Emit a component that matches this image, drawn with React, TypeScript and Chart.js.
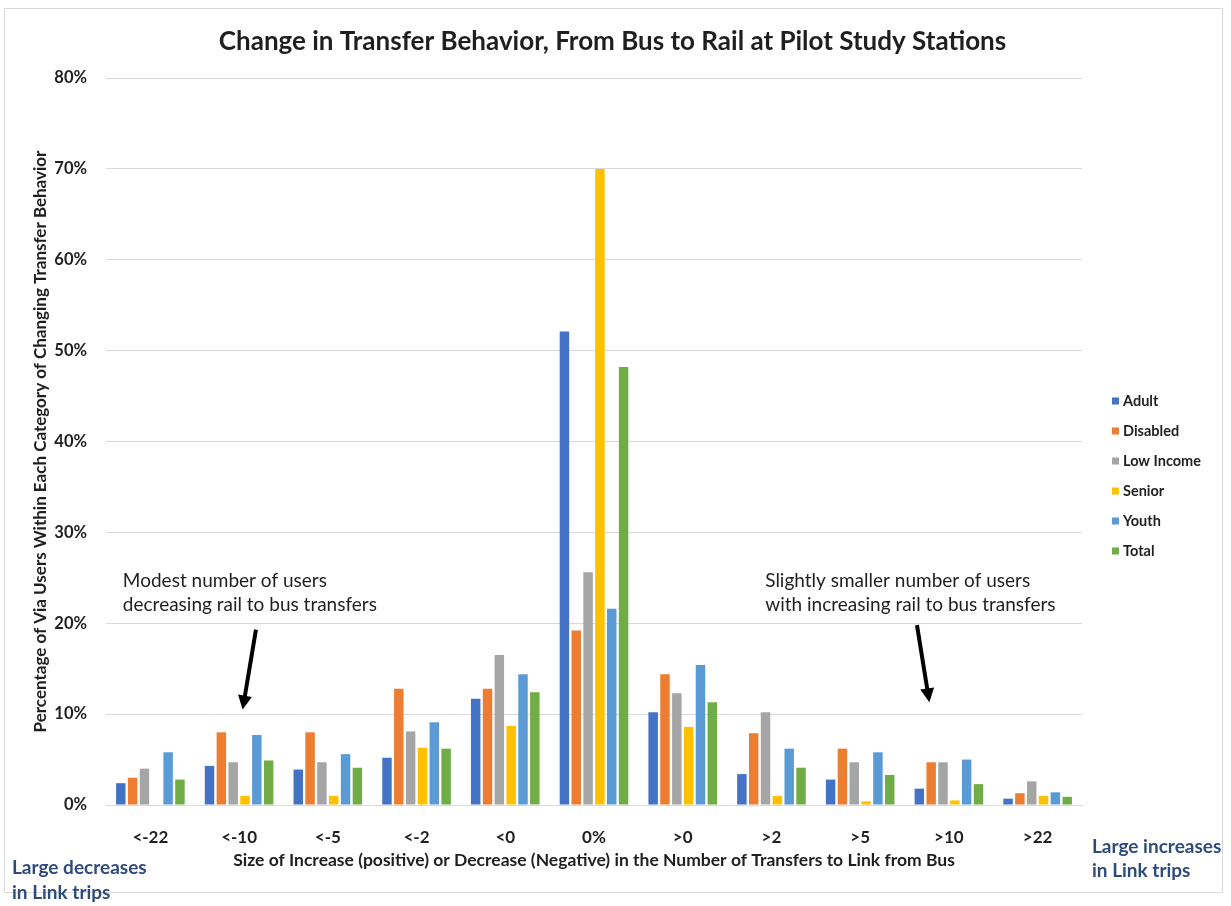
import { useEffect, useRef } from "react";
import { Chart, registerables } from "chart.js";
Chart.register(...registerables);

const categories = ["<-22", "<-10", "<-5", "<-2", "<0", "0%", ">0", ">2", ">5", ">10", ">22"];
const adult = [2.4, 4.3, 3.9, 5.2, 11.7, 52.1, 10.2, 3.4, 2.8, 1.8, 0.7];
const disabled = [3.0, 8.0, 8.0, 12.8, 12.8, 19.2, 14.4, 7.9, 6.2, 4.7, 1.3];
const lowIncome = [4.0, 4.7, 4.7, 8.1, 16.5, 25.6, 12.3, 10.2, 4.7, 4.7, 2.6];
const senior = [0, 1.0, 1.0, 6.3, 8.7, 70.0, 8.6, 1.0, 0.4, 0.5, 1.0];
const youth = [5.8, 7.7, 5.6, 9.1, 14.4, 21.6, 15.4, 6.2, 5.8, 5.0, 1.4];
const total = [2.8, 4.9, 4.1, 6.2, 12.4, 48.2, 11.3, 4.1, 3.3, 2.3, 0.9];

const seriesNames = ["Adult", "Disabled", "Low Income", "Senior", "Youth", "Total"];
const seriesColors = ["#4472c4", "#ed7d31", "#a5a5a5", "#ffc000", "#5b9bd5", "#70ad47"];

const FONT = "Lato, 'Open Sans', sans-serif";
const TEXT = "#1f1f1f";

// arrow + note positions in data units (category index, percent)
const notes = [
  { x: -0.31, lines: ["Modest number of users", "decreasing rail to bus transfers"], y: [24.7, 22.0], arrow: [1.19, 19.3, 1.04, 10.5] },
  { x: 6.93, lines: ["Slightly smaller number of users", "with increasing rail to bus transfers"], y: [24.7, 22.0], arrow: [8.64, 19.8, 8.78, 11.3] },
];

const extrasPlugin = {
  id: "extras",
  beforeDraw(chart: any) {
    const ctx = chart.ctx;
    ctx.save();
    ctx.fillStyle = "#ffffff";
    ctx.fillRect(0, 0, chart.width, chart.height);
    ctx.strokeStyle = "#d9d9d9";
    ctx.lineWidth = 1;
    ctx.strokeRect(4.5, 8.5, chart.width - 13, chart.height - 22);
    ctx.restore();
  },
  afterDraw(chart: any) {
    const ctx = chart.ctx;
    const area = chart.chartArea;
    const xs = chart.scales.x;
    const ys = chart.scales.y;
    ctx.save();

    // title
    ctx.fillStyle = TEXT;
    ctx.font = `bold 26px ${FONT}`;
    ctx.textAlign = "center";
    ctx.textBaseline = "middle";
    ctx.fillText("Change in Transfer Behavior, From Bus to Rail at Pilot Study Stations", chart.width / 2 - 3, 42);

    // legend
    ctx.textAlign = "left";
    ctx.font = `bold 14.5px ${FONT}`;
    seriesNames.forEach((name, i) => {
      const y = area.top + 323 + i * 30;
      ctx.fillStyle = seriesColors[i];
      ctx.fillRect(area.right + 30, y - 3.5, 7, 7);
      ctx.fillStyle = TEXT;
      ctx.fillText(name, area.right + 41, y);
    });

    // notes and arrows
    notes.forEach((n) => {
      ctx.font = `19px ${FONT}`;
      ctx.fillStyle = TEXT;
      ctx.textAlign = "left";
      n.lines.forEach((t, i) => ctx.fillText(t, xs.getPixelForValue(n.x), ys.getPixelForValue(n.y[i])));
      const x1 = xs.getPixelForValue(n.arrow[0]);
      const y1 = ys.getPixelForValue(n.arrow[1]);
      const x2 = xs.getPixelForValue(n.arrow[2]);
      const y2 = ys.getPixelForValue(n.arrow[3]);
      const ang = Math.atan2(y2 - y1, x2 - x1);
      const head = 14;
      ctx.strokeStyle = "#000000";
      ctx.lineWidth = 4;
      ctx.beginPath();
      ctx.moveTo(x1, y1);
      ctx.lineTo(x2 - Math.cos(ang) * head * 0.8, y2 - Math.sin(ang) * head * 0.8);
      ctx.stroke();
      ctx.fillStyle = "#000000";
      ctx.beginPath();
      ctx.moveTo(x2, y2);
      ctx.lineTo(x2 - head * Math.cos(ang) + 7 * Math.sin(ang), y2 - head * Math.sin(ang) - 7 * Math.cos(ang));
      ctx.lineTo(x2 - head * Math.cos(ang) - 7 * Math.sin(ang), y2 - head * Math.sin(ang) + 7 * Math.cos(ang));
      ctx.closePath();
      ctx.fill();
    });

    // side labels
    ctx.font = `bold 19px ${FONT}`;
    ctx.fillStyle = "#2f4b7c";
    ctx.textAlign = "left";
    ctx.fillText("Large decreases", 12, 868);
    ctx.fillText("in Link trips", 12, 893);
    ctx.fillText("Large increases", area.right + 10, 847);
    ctx.fillText("in Link trips", area.right + 10, 871);
    ctx.restore();
  },
};

export default function App() {
  const chartRef = useRef<HTMLCanvasElement>(null);
  const chartInstance = useRef<Chart | null>(null);

  useEffect(() => {
    document.body.style.margin = "0";
    if (!chartRef.current) return;
    if (chartInstance.current) chartInstance.current.destroy();

    const values = [adult, disabled, lowIncome, senior, youth, total];

    chartInstance.current = new Chart(chartRef.current, {
      type: "bar",
      data: {
        labels: categories,
        datasets: values.map((d, i) => ({
          label: seriesNames[i],
          data: d,
          backgroundColor: seriesColors[i],
          borderWidth: 0,
          categoryPercentage: 0.8,
          barPercentage: 0.8,
        })),
      },
      options: {
        responsive: true,
        maintainAspectRatio: false,
        animation: false,
        layout: { padding: { top: 78, right: 149, left: 0, bottom: 0 } },
        plugins: {
          legend: { display: false },
          title: { display: false },
          tooltip: { enabled: false },
        },
        scales: {
          x: {
            grid: { display: false },
            border: { color: "#d9d9d9" },
            ticks: { color: TEXT, font: { family: FONT, size: 17, weight: "bold" }, padding: 14, maxRotation: 0 },
            title: {
              display: true,
              text: "Size of Increase (positive) or Decrease (Negative) in the Number of Transfers to Link from Bus",
              color: TEXT,
              font: { family: FONT, size: 17.5, weight: "bold" },
              padding: { top: 0, bottom: 35 },
            },
            afterFit: (s: any) => { s.height = 101; },
          },
          y: {
            min: 0,
            max: 80,
            ticks: {
              stepSize: 10,
              color: TEXT,
              font: { family: FONT, size: 16.5, weight: "bold" },
              padding: 19,
              callback: (v: any) => v + "%",
            },
            grid: { color: "#d9d9d9", drawTicks: false },
            border: { display: false },
            title: {
              display: true,
              text: "Percentage of Via Users Within Each Category of Changing Transfer Behavior",
              color: TEXT,
              font: { family: FONT, size: 17, weight: "bold" },
              padding: { top: 30, bottom: 0 },
            },
            afterFit: (s: any) => { s.width = 106; },
          },
        },
      },
      plugins: [extrasPlugin],
    });

    return () => { chartInstance.current?.destroy(); };
  }, []);

  return (
    <div style={{ width: "1231px", height: "906px", position: "relative" }}>
      <canvas ref={chartRef}></canvas>
    </div>
  );
}
